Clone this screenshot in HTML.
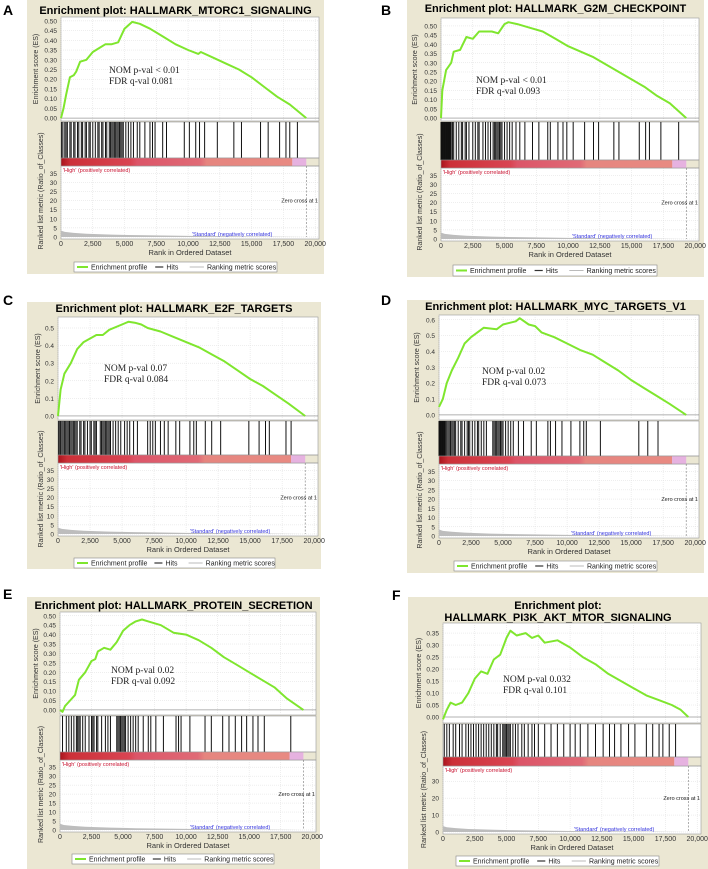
<!DOCTYPE html>
<html><head><meta charset="utf-8"><style>
html,body{margin:0;padding:0;background:#fff;}
svg{display:block;font-family:"Liberation Sans",sans-serif;}
</style></head><body>
<svg id="fig" width="708" height="869" viewBox="0 0 708 869"></svg>
<script>
// ---- data (ranks in thousands) ----
const xTickLabels = ["0","2,500","5,000","7,500","10,000","12,500","15,000","17,500","20,000"];
const xTickVals = [0,2.5,5,7.5,10,12.5,15,17.5,20];
const metricTickVals = [0,5,10,15,20,25,30,35];
const metricTickValsF = [0,10,20,30];
const metricRanks = [0,0.3,1,2,4,6,10,15,19.3];
const metricVals = [3.5,2.8,2.3,1.8,1.3,1.0,0.6,0.3,0];
const esTicks5 = [0,0.05,0.1,0.15,0.2,0.25,0.3,0.35,0.4,0.45,0.5];
const esTicks10 = [0,0.1,0.2,0.3,0.4,0.5];
const esTicksD = [0,0.1,0.2,0.3,0.4,0.5,0.6];
const esTicksF = [0,0.05,0.1,0.15,0.2,0.25,0.3,0.35];

const esXA = [0,0.2,0.4,0.7,1.0,1.2,1.5,2.0,2.5,3.0,3.5,4.0,4.5,5.0,5.6,6.2,7.0,8.0,9.0,10.0,10.8,11.0,12.0,13.0,14.0,15.0,16.0,17.0,18.0,19.3];
const esYA = [0,0.05,0.12,0.21,0.22,0.24,0.29,0.30,0.34,0.36,0.38,0.38,0.39,0.46,0.495,0.485,0.46,0.42,0.38,0.35,0.33,0.34,0.31,0.28,0.25,0.21,0.16,0.11,0.07,0];
const esXB = [0,0.1,0.4,0.8,1.0,1.5,2.0,2.5,3.0,4.0,4.5,5.0,5.3,6.0,7.0,8.0,9.0,10.0,11.0,12.0,13.0,14.0,15.0,16.0,17.0,18.0,19.3];
const esYB = [0,0.15,0.26,0.30,0.36,0.37,0.44,0.43,0.47,0.47,0.46,0.51,0.52,0.51,0.49,0.47,0.43,0.39,0.36,0.33,0.29,0.25,0.21,0.17,0.12,0.08,0];
const esXC = [0,0.2,0.5,1.0,1.5,2.0,3.0,3.5,4.0,5.0,5.5,6.0,6.5,7.0,8.0,9.0,10.0,11.0,12.0,13.0,14.0,15.0,16.0,17.0,18.0,19.3];
const esYC = [0,0.15,0.24,0.30,0.38,0.42,0.46,0.46,0.49,0.52,0.535,0.53,0.52,0.50,0.48,0.45,0.42,0.39,0.35,0.31,0.26,0.21,0.17,0.12,0.07,0];
const esXD = [0,0.3,0.6,1.0,1.5,2.0,2.5,3.0,3.5,4.5,5.0,6.0,6.3,7.0,7.5,8.0,9.0,10.0,11.0,12.0,13.0,14.0,15.0,16.0,17.0,18.0,19.3];
const esYD = [0.05,0.10,0.20,0.28,0.36,0.45,0.49,0.52,0.55,0.54,0.57,0.59,0.61,0.57,0.56,0.52,0.49,0.45,0.41,0.38,0.33,0.28,0.22,0.17,0.12,0.07,0];
const esXE = [0,0.2,0.4,0.8,1.2,1.5,2.0,2.5,2.8,3.0,3.5,4.0,4.5,5.0,5.5,6.0,6.5,7.0,8.0,9.0,10.0,11.0,12.0,13.0,14.0,15.0,16.0,17.0,18.0,19.3];
const esYE = [0,-0.01,0.02,0.05,0.08,0.16,0.20,0.26,0.27,0.31,0.33,0.32,0.36,0.42,0.45,0.47,0.48,0.47,0.45,0.41,0.40,0.37,0.33,0.28,0.24,0.20,0.16,0.12,0.06,0];
const esXF = [0,0.3,0.6,1.0,1.5,2.0,2.5,3.0,3.5,4.0,4.5,5.0,5.3,5.8,6.5,7.0,7.5,8.0,9.0,10.0,11.0,12.0,13.0,14.0,15.0,16.0,17.0,18.0,18.7,19.3];
const esYF = [-0.01,0.03,0.06,0.05,0.06,0.10,0.16,0.19,0.18,0.24,0.26,0.33,0.36,0.34,0.35,0.33,0.34,0.31,0.32,0.29,0.25,0.22,0.18,0.15,0.12,0.09,0.07,0.05,0.03,0];

const hitsA = [0.05,0.15,0.3,0.4,0.5,0.7,0.8,1.0,1.1,1.3,1.4,1.6,1.7,1.9,2.0,2.2,2.3,2.5,2.7,2.9,3.0,3.2,3.3,3.5,3.6,3.8,3.9,4.0,4.1,4.2,4.3,4.4,4.5,4.6,4.7,4.8,4.9,5.1,5.3,5.5,5.7,6.0,6.2,6.6,7.0,7.2,7.4,8.0,8.3,9.7,10.1,10.6,10.9,11.3,12.3,13.6,14.2,15.7,16.3,17.2,17.7,18.0,18.6];
const hitsB = [0,0.05,0.1,0.15,0.2,0.25,0.3,0.35,0.4,0.45,0.5,0.55,0.6,0.65,0.7,0.75,0.8,0.9,1.0,1.2,1.4,1.6,1.7,1.9,2.0,2.2,2.5,2.7,2.9,3.0,3.3,3.5,3.7,3.9,4.1,4.2,4.3,4.4,4.5,4.6,4.7,4.8,5.0,5.2,5.4,5.6,5.9,6.2,6.6,7.2,7.7,8.4,8.6,9.2,9.6,9.9,10.4,11.3,12.0,12.4,13.6,14.0,15.6,16.1,16.4,17.3,18.7];
const hitsC = [0.05,0.1,0.2,0.3,0.4,0.5,0.6,0.7,0.8,0.9,1.0,1.1,1.2,1.3,1.4,1.5,1.7,1.8,2.0,2.1,2.3,2.5,2.6,2.8,2.9,3.0,3.3,3.4,3.5,3.6,3.7,3.8,3.9,4.0,4.1,4.3,4.5,4.7,4.9,5.2,5.4,5.6,5.9,6.2,7.0,7.2,7.4,7.6,8.0,8.3,8.6,9.2,9.5,10.3,10.6,10.8,11.5,12.0,12.7,14.9,15.7,16.2,16.5,17.8,18.2];
const hitsD = [0,0.05,0.1,0.15,0.2,0.25,0.3,0.35,0.4,0.45,0.5,0.6,0.7,0.8,0.9,1.0,1.1,1.2,1.3,1.5,1.7,1.8,2.0,2.2,2.3,2.4,2.6,2.8,3.0,3.1,3.3,3.5,3.7,4.2,4.3,4.4,4.5,4.6,4.7,4.8,4.9,5.0,5.2,5.4,5.6,5.8,6.2,6.6,7.2,7.6,8.5,8.7,9.1,9.6,10.3,11.0,11.3,11.5,12.6,15.6,16.3,17.1];
const hitsE = [0.2,0.5,0.7,0.9,1.1,1.3,1.4,1.5,1.6,1.8,2.0,2.3,2.5,2.6,2.7,2.9,3.0,3.3,3.6,3.8,4.0,4.5,4.6,4.7,4.8,4.9,5.0,5.1,5.2,5.4,5.6,5.8,6.0,6.2,6.6,7.0,7.2,7.6,8.2,9.2,9.4,9.6,10.3,11.5,12.0,12.9,13.4,13.9,14.4,14.8,15.3,15.7,16.2,18.3];
const hitsF = [0.1,0.3,0.5,0.8,1.0,1.3,1.5,1.8,2.0,2.2,2.4,2.6,2.8,3.0,3.2,3.4,3.6,3.8,4.0,4.2,4.3,4.5,4.7,4.8,4.9,5.0,5.1,5.2,5.3,5.5,5.7,5.9,6.2,6.4,6.7,7.0,7.2,7.5,8.0,8.5,9.0,9.5,10.0,10.4,10.8,11.4,12.0,12.6,13.1,13.5,14.0,14.6,15.1,16.0,16.5,17.0,17.3,17.8,18.3];

// ---- layout ----
const panels = [
 {id:"a",letter:"A",lx:3,ly:10,fr:[27,0,324,274],titles:["Enrichment plot: HALLMARK_MTORC1_SIGNALING"],ty:[10],x0:61,x1:319,esT:17,esB:121,esLo:-0.015,esHi:0.52,esTicks:esTicks5,dec:2,hT:121,hB:158,rB:166,mB:237,mTicks:metricTickVals,ex:38,rx:43,nom:["NOM p-val < 0.01","FDR q-val 0.081"],nx:109,ny:73,lg:[74,262,277,272],esX:esXA,esY:esYA,hits:hitsA},
 {id:"b",letter:"B",lx:381,ly:10,fr:[407,0,704,277],titles:["Enrichment plot: HALLMARK_G2M_CHECKPOINT"],ty:[8],x0:441,x1:699,esT:18,esB:121,esLo:-0.016,esHi:0.543,esTicks:esTicks5,dec:2,hT:121,hB:160,rB:168,mB:239,mTicks:metricTickVals,ex:417,rx:422,nom:["NOM p-val < 0.01","FDR q-val 0.093"],nx:476,ny:83,lg:[453,265,657,276],esX:esXB,esY:esYB,hits:hitsB},
 {id:"c",letter:"C",lx:3,ly:300,fr:[27,302,321,569],titles:["Enrichment plot: HALLMARK_E2F_TARGETS"],ty:[308],x0:58,x1:318,esT:317,esB:420,esLo:-0.023,esHi:0.5625,esTicks:esTicks10,dec:1,hT:420,hB:455,rB:463,mB:534,mTicks:metricTickVals,ex:40,rx:43,nom:["NOM p-val 0.07","FDR q-val 0.084"],nx:104,ny:371,lg:[74,558,275,568],esX:esXC,esY:esYC,hits:hitsC},
 {id:"d",letter:"D",lx:381,ly:300,fr:[407,300,704,573],titles:["Enrichment plot: HALLMARK_MYC_TARGETS_V1"],ty:[306],x0:439,x1:699,esT:315,esB:420,esLo:-0.032,esHi:0.63,esTicks:esTicksD,dec:1,hT:420,hB:456,rB:464,mB:536,mTicks:metricTickVals,ex:419,rx:422,nom:["NOM p-val  0.02","FDR q-val 0.073"],nx:482,ny:374,lg:[454,561,657,571],esX:esXD,esY:esYD,hits:hitsD},
 {id:"e",letter:"E",lx:3,ly:594,fr:[27,597,320,869],titles:["Enrichment plot: HALLMARK_PROTEIN_SECRETION"],ty:[605],x0:60,x1:316,esT:612,esB:715,esLo:-0.027,esHi:0.52,esTicks:esTicks5,dec:2,hT:715,hB:752,rB:760,mB:830,mTicks:metricTickVals,ex:38,rx:43,nom:["NOM p-val 0.02","FDR q-val 0.092"],nx:111,ny:673,lg:[72,854,274,864],esX:esXE,esY:esYE,hits:hitsE},
 {id:"f",letter:"F",lx:392,ly:595,fr:[408,597,708,869],titles:["Enrichment plot:","HALLMARK_PI3K_AKT_MTOR_SIGNALING"],ty:[605,617],x0:443,x1:701,esT:623,esB:723,esLo:-0.025,esHi:0.392,esTicks:esTicksF,dec:2,hT:723,hB:757,rB:766,mB:832,mTicks:metricTickValsF,ex:421,rx:426,nom:["NOM p-val 0.032","FDR q-val 0.101"],nx:503,ny:682,lg:[456,856,659,866],esX:esXF,esY:esYF,hits:hitsF}
];
const XMAX = 20.3, MMAX = 39;
const NS = "http://www.w3.org/2000/svg";
const svg = document.getElementById("fig");
function mk(tag, at, parent, txt){const e=document.createElementNS(NS,tag);for(const k in at)e.setAttribute(k,at[k]);if(txt!==undefined)e.textContent=txt;(parent||svg).appendChild(e);return e;}

// shared gradient
const defs = mk("defs",{});
const lgd = mk("linearGradient",{id:"redbar",x1:"0",x2:"1",y1:"0",y2:"0"},defs);
[["0","#a8141c"],["0.04","#cc3038"],["0.3","#d94452"],["0.33","#dc5568"],["0.6","#e06a76"],["0.63","#e6857f"],["1","#e88a82"]].forEach(s=>mk("stop",{offset:s[0],"stop-color":s[1]},lgd));

panels.forEach(p=>{
  const g = mk("g",{});
  
  
  const xs = v => p.x0 + v/XMAX*(p.x1-p.x0);
  const ys = v => p.esB - (v-p.esLo)/(p.esHi-p.esLo)*(p.esB-p.esT);
  const ms = v => p.mB - v/MMAX*(p.mB-p.rB);

  const lt = mk("text",{x:p.lx,y:p.ly+5,"font-size":"14","font-weight":"bold"},g,p.letter);
  
  

  const fr = mk("rect",{x:p.fr[0],y:p.fr[1],width:p.fr[2]-p.fr[0],height:p.fr[3]-p.fr[1],fill:"#ebe7d3"},g);
  
  

  p.titles.forEach((t,i)=>{
    const tt = mk("text",{x:(p.fr[0]+p.fr[2])/2,y:p.ty[i]+4,"font-size":"11","font-weight":"bold","text-anchor":"middle"},g,t);
    
    
  });

  // plot areas
  const es = mk("rect",{x:p.x0,y:p.esT,width:p.x1-p.x0,height:p.esB-p.esT,fill:"#fff",stroke:"#999","stroke-width":"0.6"},g);
  
  
  const hb = mk("rect",{x:p.x0,y:p.hT+1,width:p.x1-p.x0,height:p.hB-p.hT-1,fill:"#fff",stroke:"#999","stroke-width":"0.6"},g);
  
  
  const mb = mk("rect",{x:p.x0,y:p.rB,width:p.x1-p.x0,height:p.mB-p.rB+2,fill:"#fff",stroke:"#999","stroke-width":"0.6"},g);
  
  

  // grids & ticks
  xTickVals.forEach((v,i)=>{
    const x = xs(v);
    mk("line",{x1:x,x2:x,y1:p.esT,y2:p.esB,stroke:"#ddd","stroke-width":"0.5","stroke-dasharray":"1,1"},g);
    mk("line",{x1:x,x2:x,y1:p.rB,y2:p.mB,stroke:"#ddd","stroke-width":"0.5","stroke-dasharray":"1,1"},g);
    const tl = mk("text",{x:x,y:p.mB+9,"font-size":"7","text-anchor":"middle",fill:"#333"},g,xTickLabels[i]);
    
    
  });
  p.esTicks.forEach(v=>{
    const y = ys(v);
    mk("line",{x1:p.x0,x2:p.x1,y1:y,y2:y,stroke:v===0?"#666":"#ddd","stroke-width":"0.5","stroke-dasharray":v===0?"":"1,1"},g);
    const tl = mk("text",{x:p.x0-4,y:y+2.5,"font-size":"6.5","text-anchor":"end",fill:"#333"},g,v.toFixed(p.dec));
    
    
  });
  p.mTicks.forEach(v=>{
    const y = ms(v);
    mk("line",{x1:p.x0,x2:p.x1,y1:y,y2:y,stroke:"#ddd","stroke-width":"0.5","stroke-dasharray":"1,1"},g);
    const tl = mk("text",{x:p.x0-4,y:y+2.5,"font-size":"6.5","text-anchor":"end",fill:"#333"},g,String(v));
    
    
  });

  // hits
  p.hits.forEach(h=>{
    const hl = mk("line",{x1:xs(h),x2:xs(h),y1:p.hT+1,y2:p.hB,stroke:"#111","stroke-width":"1"},g);
    
    
  });

  // red bar
  const rb = mk("rect",{x:p.x0,y:p.hB,width:xs(18.2)-p.x0,height:p.rB-p.hB,fill:"url(#redbar)"},g);
  
  
  const pk = mk("rect",{x:xs(18.2),y:p.hB,width:xs(19.3)-xs(18.2),height:p.rB-p.hB,fill:"#e6b2e0"},g);
  
  
  mk("rect",{x:p.x0,y:p.hB,width:p.x1-p.x0,height:p.rB-p.hB,fill:"none",stroke:"#999","stroke-width":"0.6"},g);

  // metric area fill
  let d = "M"+xs(metricRanks[0])+","+ms(0);
  metricRanks.forEach((r,i)=>{ d += " L"+xs(r)+","+ms(metricVals[i]); });
  d += " L"+xs(metricRanks[metricRanks.length-1])+","+ms(0)+" Z";
  const mf = mk("path",{d:d,fill:"#bdbdbd"},g);
  
  

  const zc = mk("line",{x1:xs(19.3),x2:xs(19.3),y1:p.rB,y2:p.mB,stroke:"#777","stroke-width":"0.6","stroke-dasharray":"2,1.5"},g);
  
  
  const zt = mk("text",{x:p.x1-1,y:ms(20)+2,"font-size":"5.5","text-anchor":"end",fill:"#222"},g,"Zero cross at 1");
  
  
  const hi = mk("text",{x:p.x0+2,y:p.rB+6,"font-size":"5.5",fill:"#c8102e"},g,"'High' (positively correlated)");
  
  
  const st = mk("text",{x:xs(10.3),y:p.mB-1,"font-size":"5.5",fill:"#3333dd"},g,"'Standard' (negatively correlated)");
  
  

  // ES curve
  const pts = p.esX.map((x,i)=>xs(x).toFixed(1)+","+ys(p.esY[i]).toFixed(1)).join(" ");
  const cv = mk("polyline",{points:pts,fill:"none",stroke:"#7fe62e","stroke-width":"2","stroke-linejoin":"round"},g);
  
  

  // axis titles
  const ey = (p.esT+p.esB)/2;
  const et = mk("text",{x:p.ex,y:ey,"font-size":"7","text-anchor":"middle",fill:"#333",transform:"rotate(-90 "+p.ex+" "+ey+")"},g,"Enrichment score (ES)");
  
  
  const ry = (p.hT+p.mB)/2+12;
  const rt = mk("text",{x:p.rx,y:ry,"font-size":"7","text-anchor":"middle",fill:"#333",transform:"rotate(-90 "+p.rx+" "+ry+")"},g,"Ranked list metric (Ratio_of_Classes)");
  
  
  const xt = mk("text",{x:(p.x0+p.x1)/2,y:p.mB+18,"font-size":"7.5","text-anchor":"middle",fill:"#333"},g,"Rank in Ordered Dataset");
  
  

  // stats
  p.nom.forEach((t,i)=>{
    const nt = mk("text",{x:p.nx,y:p.ny+i*11,"font-size":"9.5","font-family":"Liberation Serif, serif",fill:"#222"},g,t);
    
    
  });

  // legend
  const L = p.lg;
  const lb = mk("rect",{x:L[0],y:L[1],width:L[2]-L[0],height:L[3]-L[1],fill:"#fff",stroke:"#888","stroke-width":"0.6"},g);
  
  
  const cy = (L[1]+L[3])/2, w = L[2]-L[0];
  mk("line",{x1:L[0]+3,x2:L[0]+14,y1:cy,y2:cy,stroke:"#7fe62e","stroke-width":"2"},g);
  const l1 = mk("text",{x:L[0]+17,y:cy+2.5,"font-size":"7",fill:"#222"},g,"Enrichment profile");
  
  
  mk("line",{x1:L[0]+w*0.40,x2:L[0]+w*0.44,y1:cy,y2:cy,stroke:"#333","stroke-width":"1.2"},g);
  const l2 = mk("text",{x:L[0]+w*0.455,y:cy+2.5,"font-size":"7",fill:"#222"},g,"Hits");
  
  
  mk("line",{x1:L[0]+w*0.57,x2:L[0]+w*0.64,y1:cy,y2:cy,stroke:"#bbb","stroke-width":"1"},g);
  const l3 = mk("text",{x:L[0]+w*0.655,y:cy+2.5,"font-size":"7",fill:"#222"},g,"Ranking metric scores");
  
  
});
</script>
</body></html>
